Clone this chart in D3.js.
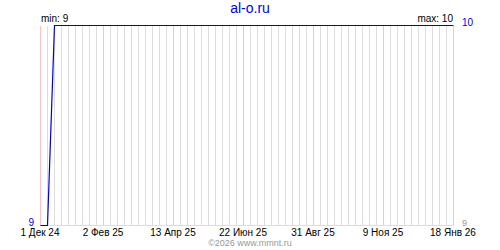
<!DOCTYPE html>
<html><head><meta charset="utf-8">
<script src="https://cdn.jsdelivr.net/npm/d3@7"></script>
<style>body{margin:0;background:#fff}svg{display:block}text{font-family:"Liberation Sans",Arial,sans-serif}</style>
</head><body>
<script>
const title = "al-o.ru";
const startDate = "2024-12-01";
const endDate = "2026-01-18";
const values = [9,9,10,10,10,10,10,10,10,10,
  10,10,10,10,10,10,10,10,10,10,
  10,10,10,10,10,10,10,10,10,10,
  10,10,10,10,10,10,10,10,10,10,
  10,10,10,10,10,10,10,10,10,10,
  10,10,10,10,10,10,10,10,10,10];
const tickLabels = ["1 Дек 24","2 Фев 25","13 Апр 25","22 Июн 25","31 Авг 25","9 Ноя 25","18 Янв 26"];
const tickWeeks = [0, 9, 19, 29, 39, 49, 59];
const minLabel = "min: 9", maxLabel = "max: 10";
const yMin = 9, yMax = 10;
const copyright = "©2026 www.mmnt.ru";

const W = 500, H = 250;
const svg = d3.select("body").append("svg").attr("width", W).attr("height", H);
const parse = s => new Date(s + "T00:00:00Z");
const x0 = parse(startDate), x1 = parse(endDate);
const x = d3.scaleUtc().domain([x0, x1]).range([40, 453]);
const y = d3.scaleLinear().domain([yMin, yMax]).range([225, 25]);
const weeks = d3.utcWeek.range(x0, d3.utcDay.offset(x1, 1));

const g = svg.append("g");
const gx = d => Math.round(x(d)) + 0.5;
weeks.forEach((d, i) => {
  if (tickWeeks.includes(i)) return;
  g.append("line").attr("x1", gx(d)).attr("x2", gx(d))
    .attr("y1", 26).attr("y2", 225).attr("stroke", "#dddddd").attr("stroke-width", 1);
});
tickWeeks.forEach(i => {
  const d = weeks[i];
  g.append("line").attr("x1", gx(d)).attr("x2", gx(d))
    .attr("y1", 26).attr("y2", 225).attr("stroke", "#ffc0c0").attr("stroke-width", 1);
});
g.append("line").attr("x1", 40).attr("x2", 454).attr("y1", 225.5).attr("y2", 225.5).attr("stroke", "#dddddd");

const data = weeks.map((d, i) => ({d, v: values[i]}));
svg.append("path").datum(data).attr("fill", "none").attr("stroke", "#0000dd").attr("stroke-width", 1.2)
  .attr("d", d3.line().x(p => gx(p.d)).y(p => y(p.v) + 0.5));

svg.append("text").attr("x", 250).attr("y", 13).attr("text-anchor", "middle")
  .attr("fill", "#0000ee").attr("font-size", 14).attr("font-family", "DejaVu Sans").text(title);
svg.append("text").attr("x", 41).attr("y", 22).attr("font-size", 10).attr("fill", "#000").text(minLabel);
svg.append("text").attr("x", 453).attr("y", 22).attr("text-anchor", "end").attr("font-size", 10).attr("fill", "#000").text(maxLabel);
svg.append("text").attr("x", 462).attr("y", 26).attr("font-size", 10).attr("fill", "#0000ee").text(yMax);
svg.append("text").attr("x", 34).attr("y", 226).attr("text-anchor", "end").attr("font-size", 10).attr("fill", "#0000ee").text(yMin);
svg.append("text").attr("x", 462).attr("y", 226).attr("font-size", 9).attr("fill", "#999999").text(yMin);

tickWeeks.forEach((wi, i) => {
  svg.append("text").attr("x", x(weeks[wi])).attr("y", 236).attr("text-anchor", "middle")
    .attr("font-size", 10).attr("fill", "#000").text(tickLabels[i]);
});
svg.append("text").attr("x", 250).attr("y", 246).attr("text-anchor", "middle")
  .attr("font-size", 9).attr("fill", "#999999").text(copyright);
</script>
</body></html>
